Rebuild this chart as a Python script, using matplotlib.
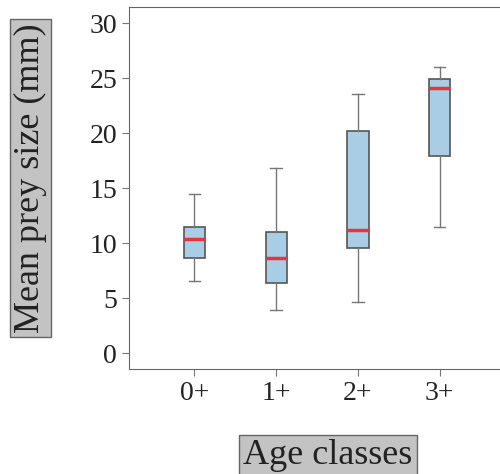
import matplotlib.pyplot as plt

# box statistics
classes = ['0+', '1+', '2+', '3+']
whisker_low = [6.6, 3.9, 4.7, 11.5]
q1 = [8.7, 6.4, 9.6, 17.9]
median = [10.4, 8.7, 11.2, 24.1]
q3 = [11.5, 11.0, 20.2, 24.9]
whisker_high = [14.5, 16.8, 23.6, 26.0]

plt.rcParams['font.family'] = ['Liberation Serif', 'DejaVu Serif']

fig = plt.figure(figsize=(5, 4.74), dpi=100)
ax = fig.add_axes([129 / 500, 1 - 369 / 474, 372 / 500, 362 / 474])

stats = []
for i in range(len(classes)):
    stats.append({'whislo': whisker_low[i], 'q1': q1[i], 'med': median[i],
                  'q3': q3[i], 'whishi': whisker_high[i], 'label': classes[i]})

edge = '#555555'
ax.bxp(stats, positions=range(1, 5), widths=0.26, showfliers=False,
       patch_artist=True,
       boxprops=dict(facecolor='#a9cde4', edgecolor=edge, linewidth=1.2),
       medianprops=dict(color='#e8323c', linewidth=2.5),
       whiskerprops=dict(color='#777777', linewidth=1),
       capprops=dict(color='#777777', linewidth=1),
       capwidths=0.14)

ax.set_xlim(0.2, 4.75)
ax.set_ylim(-1.43, 31.48)
ax.set_yticks([0, 5, 10, 15, 20, 25, 30])
ax.tick_params(labelsize=20, colors='#777777', labelcolor='#222222', length=5)
ax.spines['right'].set_visible(False)
for s in ['left', 'top', 'bottom']:
    ax.spines[s].set_color('#666666')

box = dict(facecolor='#c3c3c3', edgecolor='#666666', boxstyle='square,pad=0.12')
fig.text(30.5 / 500, 1 - 178 / 474, 'Mean prey size (mm)', rotation=90,
         ha='center', va='center', fontsize=26, color='#222222', bbox=box)
fig.text(328 / 500, 1 - 456 / 474, 'Age classes', ha='center', va='center',
         fontsize=26, color='#222222', bbox=box)

fig.savefig('out.png', dpi=100)
